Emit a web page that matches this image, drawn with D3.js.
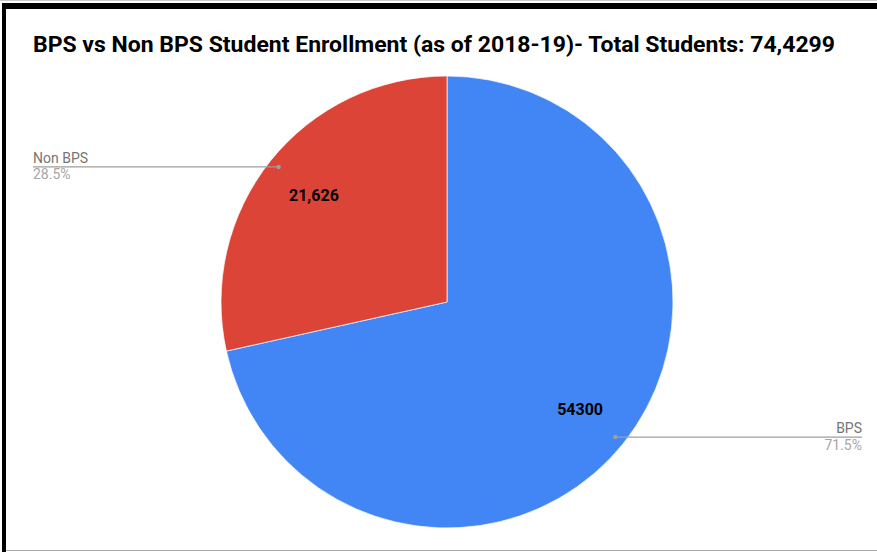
<!DOCTYPE html>
<html>
<head>
<meta charset="utf-8">
<script src="https://cdn.jsdelivr.net/npm/d3@7"></script>
<style>
  body { margin: 0; background: #fff; }
  svg { display: block; font-family: Roboto, "Noto Sans", sans-serif; }
</style>
</head>
<body>
<div id="chart"></div>
<script>
const width = 877;
const height = 552;

// chart data
const chartTitle = "BPS vs Non BPS Student Enrollment (as of 2018-19)- Total Students: 74,4299";
const categories = ["BPS", "Non BPS"];
const values = [54300, 21626];
const valueLabels = ["54300", "21,626"];
const colors = ["#4285F4", "#DB4437"];

const cx = 447, cy = 302, radius = 226;

const svg = d3.select("#chart").append("svg")
    .attr("width", width)
    .attr("height", height);

// frame round the screenshot
svg.append("rect").attr("x", 0).attr("y", 0).attr("width", width).attr("height", 1).attr("fill", "#c8c8c8");
svg.append("rect").attr("x", 2).attr("y", 3).attr("width", width - 2).attr("height", 6).attr("fill", "#000");
svg.append("rect").attr("x", 2).attr("y", 3).attr("width", 4).attr("height", height - 3).attr("fill", "#000");
svg.append("rect").attr("x", 6).attr("y", 550).attr("width", width - 6).attr("height", 1).attr("fill", "#aaa");

svg.append("text")
    .attr("x", 33)
    .attr("y", 52)
    .attr("font-size", 22)
    .attr("font-weight", "bold")
    .attr("fill", "#000")
    .attr("textLength", 802)
    .attr("lengthAdjust", "spacingAndGlyphs")
    .text(chartTitle);

const data = categories.map((c, i) => ({name: c, value: values[i], label: valueLabels[i], color: colors[i]}));
const total = d3.sum(values);
const pct = d3.format(".1%");

const pie = d3.pie().sort(null).value(d => d.value);
const arcs = pie(data);

const arc = d3.arc().innerRadius(0).outerRadius(radius);
const labelArc = d3.arc().innerRadius(radius * 0.755).outerRadius(radius * 0.755);
const dotArc = d3.arc().innerRadius(radius * 0.955).outerRadius(radius * 0.955);

const g = svg.append("g").attr("transform", `translate(${cx},${cy})`);

g.selectAll("path")
    .data(arcs)
    .join("path")
    .attr("d", arc)
    .attr("fill", d => d.data.color)
    .attr("stroke", "#fff")
    .attr("stroke-width", 0.7);

g.selectAll(".valueLabel")
    .data(arcs)
    .join("text")
    .attr("class", "valueLabel")
    .attr("transform", d => `translate(${labelArc.centroid(d)})`)
    .attr("text-anchor", "middle")
    .attr("dy", "0.36em")
    .attr("font-size", 16)
    .attr("font-weight", "bold")
    .attr("fill", "#000")
    .text(d => d.data.label);

// leader lines out to the side labels
const leftX = 33 - cx, rightX = 862 - cx;
const legend = g.selectAll(".leader")
    .data(arcs)
    .join("g")
    .attr("class", "leader");

legend.append("line")
    .attr("x1", d => dotArc.centroid(d)[0])
    .attr("y1", d => dotArc.centroid(d)[1])
    .attr("x2", d => dotArc.centroid(d)[0] > 0 ? rightX : leftX)
    .attr("y2", d => dotArc.centroid(d)[1])
    .attr("stroke", "#9e9e9e")
    .attr("stroke-width", 1.3);

legend.append("circle")
    .attr("cx", d => dotArc.centroid(d)[0])
    .attr("cy", d => dotArc.centroid(d)[1])
    .attr("r", 2.2)
    .attr("fill", "#9e9e9e");

legend.append("text")
    .attr("x", d => dotArc.centroid(d)[0] > 0 ? rightX : leftX)
    .attr("y", d => dotArc.centroid(d)[1] - 4)
    .attr("text-anchor", d => dotArc.centroid(d)[0] > 0 ? "end" : "start")
    .attr("font-size", 14)
    .attr("fill", "#757575")
    .text(d => d.data.name);

legend.append("text")
    .attr("x", d => dotArc.centroid(d)[0] > 0 ? rightX : leftX)
    .attr("y", d => dotArc.centroid(d)[1] + 12.5)
    .attr("text-anchor", d => dotArc.centroid(d)[0] > 0 ? "end" : "start")
    .attr("font-size", 14)
    .attr("fill", "#a6a6a6")
    .text(d => pct(d.data.value / total));
</script>
</body>
</html>
